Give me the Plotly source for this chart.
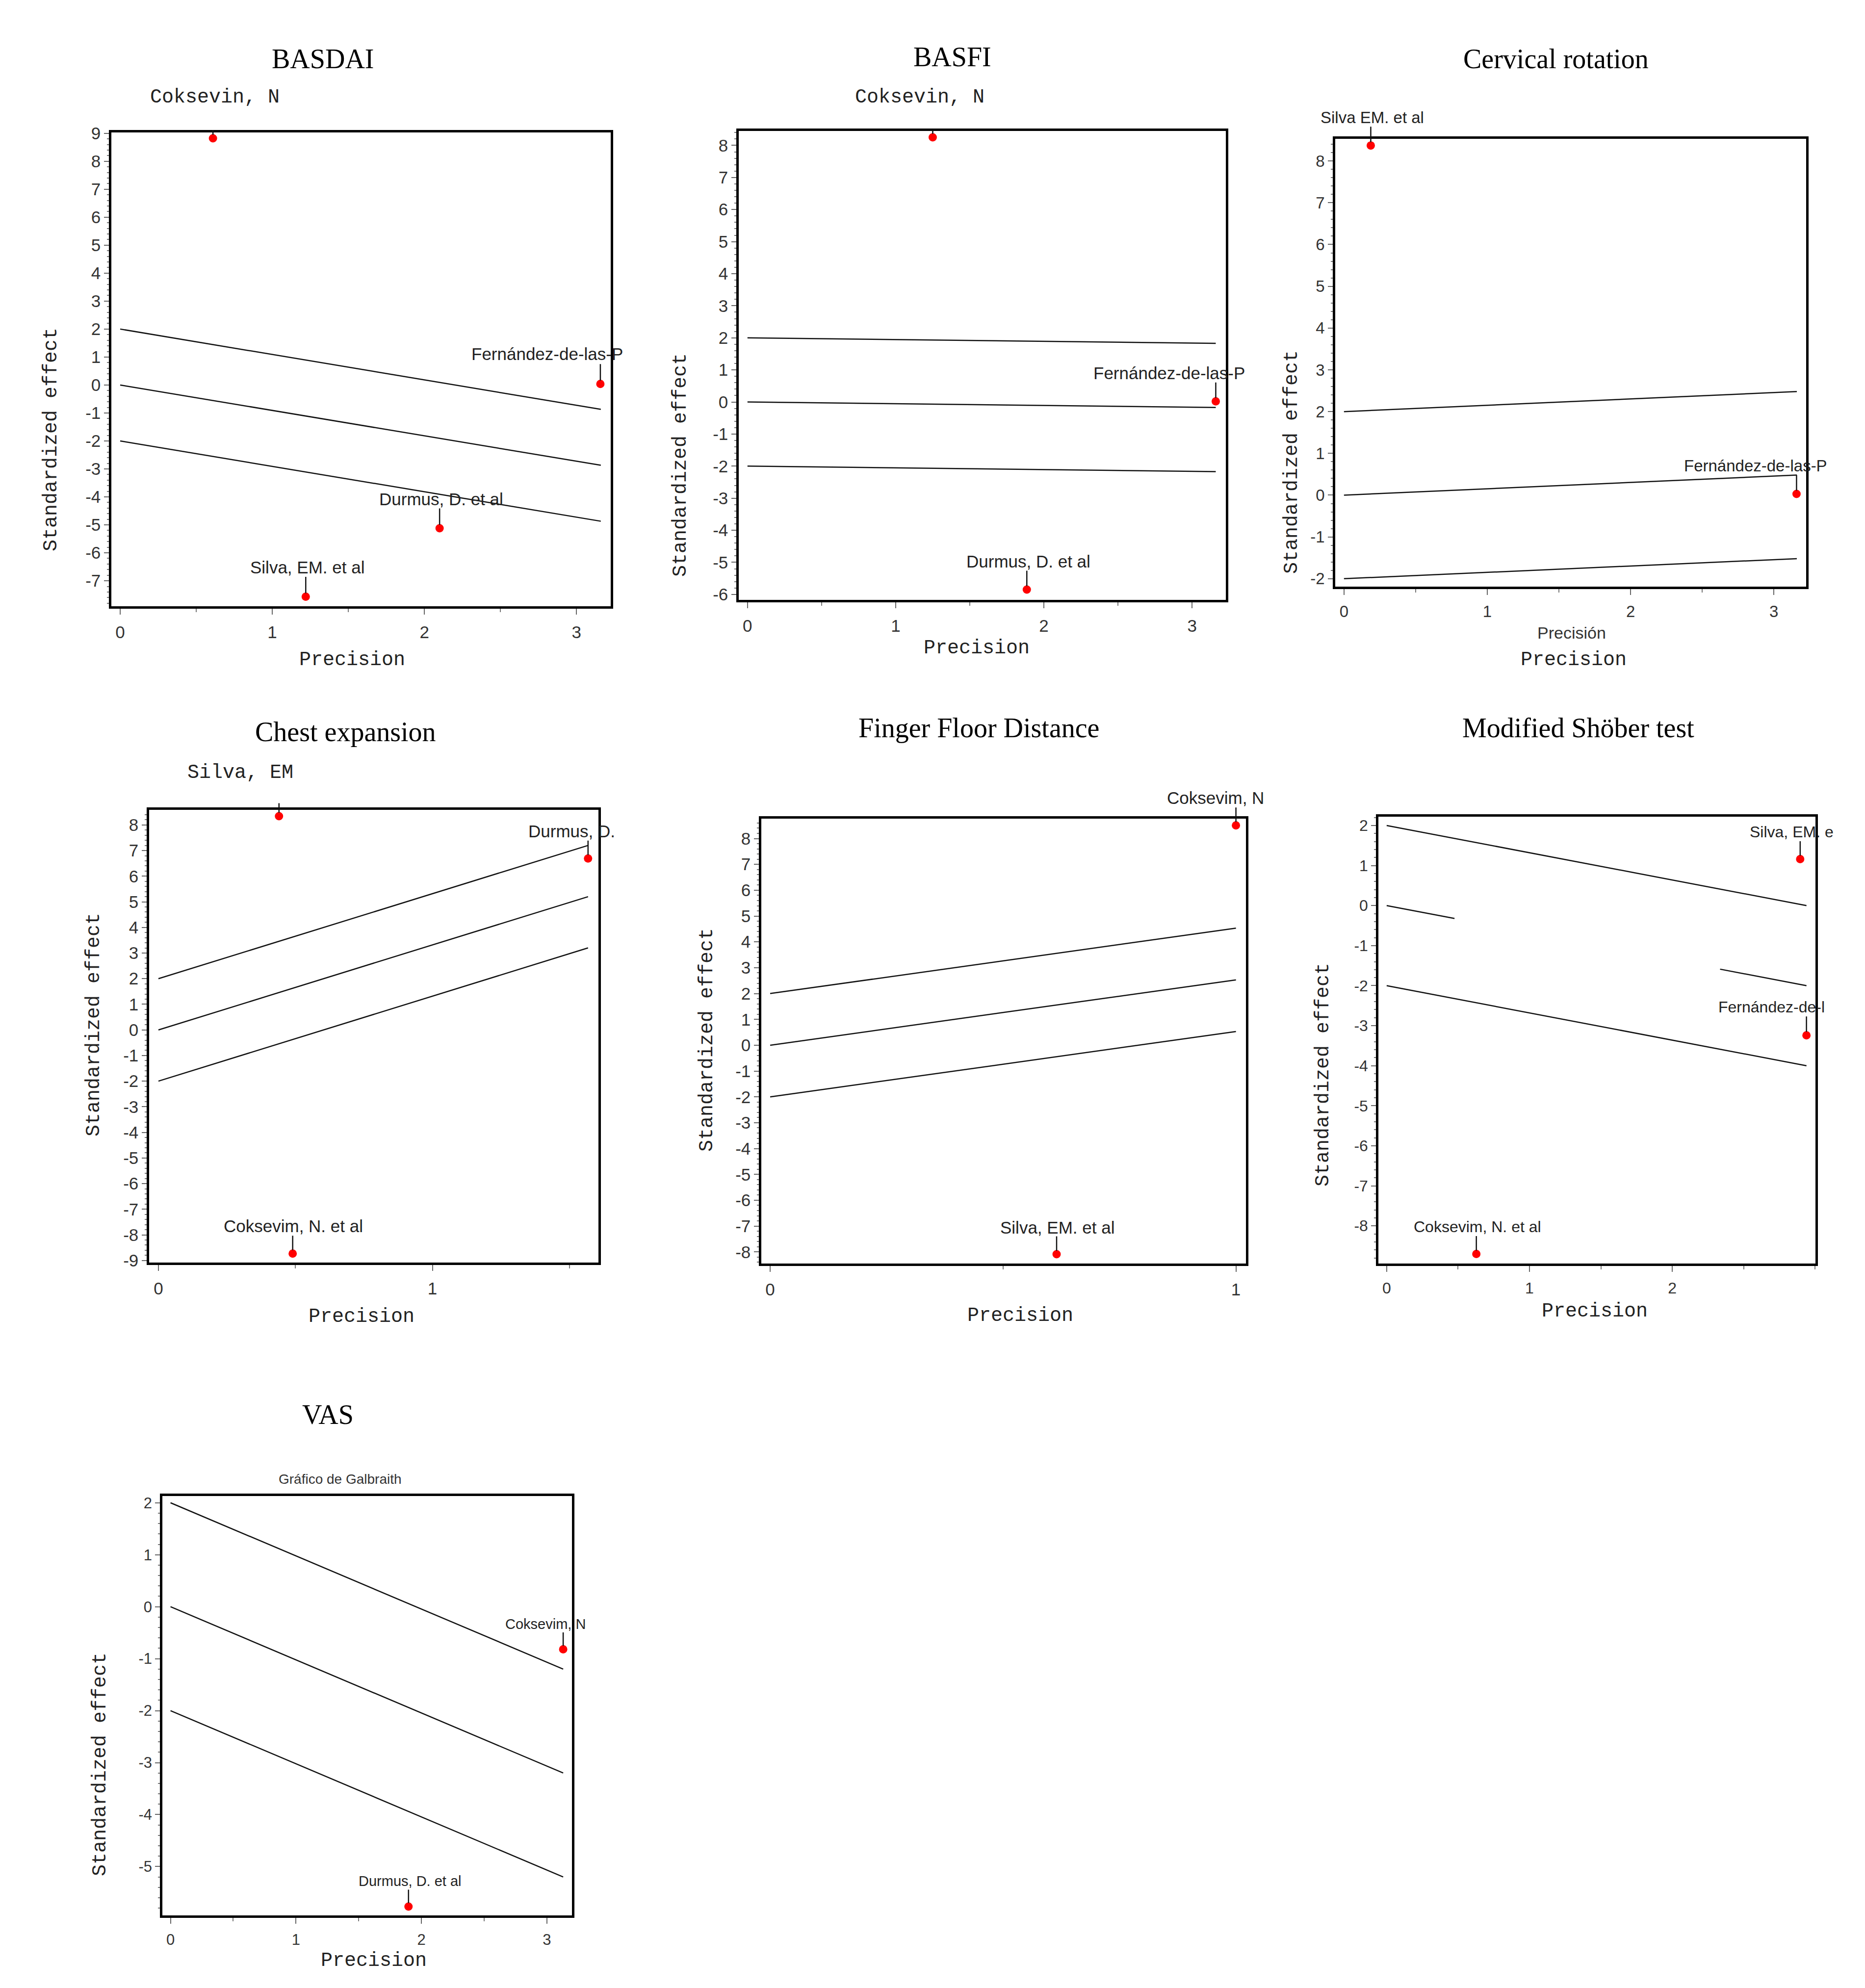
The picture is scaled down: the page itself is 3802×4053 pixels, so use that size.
import plotly.graph_objects as go

W, H = 3802, 4053

# ---- data ----
titles = ["BASDAI", "BASFI", "Cervical rotation", "Chest expansion",
          "Finger Floor Distance", "Modified Shöber test", "VAS"]

study_labels = [
    ["Coksevin, N", "Silva, EM. et al", "Durmus, D. et al", "Fernández-de-las-P"],
    ["Coksevin, N", "Durmus, D. et al", "Fernández-de-las-P"],
    ["Silva EM. et al", "Fernández-de-las-P"],
    ["Silva, EM", "Durmus, D.", "Coksevim, N. et al"],
    ["Coksevim, N", "Silva, EM. et al"],
    ["Silva, EM. e", "Fernández-de-l", "Coksevim, N. et al"],
    ["Coksevim, N", "Durmus, D. et al"],
]
precision = [
    [0.61, 1.22, 2.10, 3.157],
    [1.25, 1.885, 3.16],
    [0.187, 3.158],
    [0.44, 1.568, 0.49],
    [1.0, 0.615],
    [2.896, 2.94, 0.628],
    [3.13, 1.897],
]
std_effect = [
    [8.82, -7.57, -5.12, 0.04],
    [8.25, -5.85, 0.02],
    [8.37, 0.03],
    [8.34, 6.69, -8.73],
    [8.51, -8.09],
    [1.16, -3.24, -8.70],
    [-0.82, -5.77],
]
# regression line from precision 0 to line_end_x, centre line ends at line_end_y
line_end_x = [3.16, 3.16, 3.16, 1.568, 1.0, 2.94, 3.13]
line_end_y = [-2.87, -0.17, 0.48, 5.2, 2.53, -2.0, -3.2]
band = 2
# the centre line of the Shöber panel is only drawn at both ends
shober_mid_gap = (0.475, 2.335)

x_ticks = [[0, 1, 2, 3], [0, 1, 2, 3], [0, 1, 2, 3], [0, 1], [0, 1], [0, 1, 2],
           [0, 1, 2, 3]]
y_ticks = [list(range(-7, 10)), list(range(-6, 9)), list(range(-2, 9)),
           list(range(-9, 9)), list(range(-8, 9)), list(range(-8, 3)),
           list(range(-5, 3))]
x_ranges = [(-0.058, 3.225), (-0.059, 3.228), (-0.061, 3.225), (-0.034, 1.606),
            (-0.019, 1.0215), (-0.058, 3.003), (-0.065, 3.2)]
y_ranges = [(-7.91, 9.03), (-6.17, 8.45), (-2.19, 8.53), (-9.08, 8.59),
            (-8.45, 8.77), (-8.94, 2.22), (-5.94, 2.13)]

# ---- layout (pixel positions in the page) ----
boxes = [(219, 1237, 262, 1228), (1498, 2491, 259, 1215), (2714, 3674, 275, 1188),
         (296, 1212, 1643, 2566), (1544, 2532, 1661, 2568), (2802, 3693, 1657, 2568),
         (323, 1158, 3042, 3897)]
title_pos = [(650, 112), (1933, 108), (3164, 112), (696, 1484), (1987, 1476),
             (3209, 1476), (660, 2876)]
ytitle_pos = [(96, 888), (1379, 940), (2626, 934), (183, 2081), (1433, 2112),
              (2689, 2183), (196, 3589)]
xtitle_pos = [(710, 1337), (1983, 1313), (3200, 1337), (729, 2676), (2072, 2674),
              (3243, 2665), (754, 3989)]
label_size = [35, 35, 33, 35, 35, 32, 29]
tick_size = [35, 35, 33, 35, 35, 32, 31]
# (style, xshift, yshift, leader length) for every study label
label_place = [
    [("mono", 4, 83, 18), ("sans", 3, 60, 42), ("sans", 3, 59, 42), ("sans", -108, 61, 42)],
    [("mono", -26, 82, 16), ("sans", 3, 58, 40), ("sans", -95, 58, 40)],
    [("sans", 3, 57, 40), ("sans", -83, 57, 40)],
    [("mono", -79, 89, 28), ("sans", -33, 56, 38), ("sans", 1, 56, 38)],
    [("sans", -42, 56, 38), ("sans", 1, 55, 38)],
    [("sans", -17, 56, 38), ("sans", -71, 58, 40), ("sans", 2, 55, 38)],
    [("sans", -36, 52, 36), ("sans", 3, 52, 36)],
]

MONO = "Liberation Mono, Courier New, monospace"
SANS = "Liberation Sans, Arial, sans-serif"
SERIF = "Liberation Serif, Times New Roman, serif"


def px(x):
    return x / W


def py(y):
    return 1 - y / H


def paper_text(x, y, text, font, angle=0):
    return dict(x=px(x), y=py(y), xref="paper", yref="paper", text=text,
                showarrow=False, xanchor="center", yanchor="middle",
                textangle=angle, font=font)


fig = go.Figure()
annotations = []

for i in range(7):
    xa = "x" if i == 0 else f"x{i+1}"
    ya = "y" if i == 0 else f"y{i+1}"
    left, right, top, bottom = boxes[i]

    # regression line and +-2 band
    x0, x1 = 0, line_end_x[i]
    slope = line_end_y[i] / x1
    for off in (band, 0, -band):
        if i == 5 and off == 0:
            g0, g1 = shober_mid_gap
            xs = [x0, g0, None, g1, x1]
        else:
            xs = [x0, x1]
        ys = [None if v is None else off + slope * v for v in xs]
        fig.add_trace(go.Scatter(x=xs, y=ys, mode="lines", xaxis=xa, yaxis=ya,
                                 line=dict(color="#111", width=2.5),
                                 showlegend=False, hoverinfo="skip"))

    fig.add_trace(go.Scatter(x=precision[i], y=std_effect[i], mode="markers",
                             xaxis=xa, yaxis=ya, cliponaxis=False,
                             marker=dict(color="#ff0000", size=17),
                             showlegend=False))

    for lab, xv, yv, (style, dx, dy, lead) in zip(study_labels[i], precision[i],
                                                  std_effect[i], label_place[i]):
        if style == "mono":
            font = dict(family=MONO, size=40, color="#222")
        else:
            font = dict(family=SANS, size=label_size[i], color="#222")
        annotations.append(dict(x=xv, y=yv, xref=xa, yref=ya, text=lab,
                                showarrow=False, xshift=dx, yshift=dy,
                                xanchor="center", yanchor="middle", font=font))
        annotations.append(dict(x=xv, y=yv, xref=xa, yref=ya, text="",
                                showarrow=True, arrowhead=0, arrowwidth=2.5,
                                arrowcolor="#111", ax=0, ay=-lead, standoff=7))

    axis_common = dict(showline=True, linecolor="black", linewidth=4.5, mirror=True,
                       ticks="outside", tickwidth=2, tickcolor="#666",
                       showgrid=False, zeroline=False, tickmode="array",
                       tickfont=dict(family=SANS, size=tick_size[i], color="#333"))
    fig.update_layout({
        ("xaxis" if i == 0 else f"xaxis{i+1}"): dict(
            domain=[px(left), px(right)], range=list(x_ranges[i]), anchor=ya,
            tickvals=x_ticks[i], ticktext=[str(v) for v in x_ticks[i]],
            ticklen=12, ticklabelstandoff=6,
            minor=dict(tickmode="linear", tick0=0, dtick=0.5, ticks="outside",
                       ticklen=7, tickwidth=1.5, tickcolor="#777"),
            **axis_common),
        ("yaxis" if i == 0 else f"yaxis{i+1}"): dict(
            domain=[py(bottom), py(top)], range=list(y_ranges[i]), anchor=xa,
            tickvals=y_ticks[i], ticktext=[str(v) for v in y_ticks[i]],
            ticklen=10,
            minor=dict(tickmode="linear", tick0=0, dtick=0.2, ticks="outside",
                       ticklen=4, tickwidth=1.5, tickcolor="#777"),
            **axis_common),
    })

    tx, ty = title_pos[i]
    annotations.append(paper_text(tx, ty, titles[i],
                                  dict(family=SERIF, size=56, color="black")))
    yx, yy = ytitle_pos[i]
    annotations.append(paper_text(yx, yy, "Standardized effect",
                                  dict(family=MONO, size=40, color="#222"), -90))
    xx, xy = xtitle_pos[i]
    annotations.append(paper_text(xx, xy, "Precision",
                                  dict(family=MONO, size=40, color="#222")))

# extra captions left over from the original software
annotations.append(paper_text(3196, 1282, "Precisión",
                              dict(family=SANS, size=34, color="#333")))
annotations.append(paper_text(685, 3007, "Gráfico de Galbraith",
                              dict(family=SANS, size=28, color="#333")))

fig.update_layout(width=W, height=H, margin=dict(l=0, r=0, t=0, b=0),
                  template="none", paper_bgcolor="white", plot_bgcolor="white",
                  showlegend=False, annotations=annotations)

fig.write_html("out.html")
